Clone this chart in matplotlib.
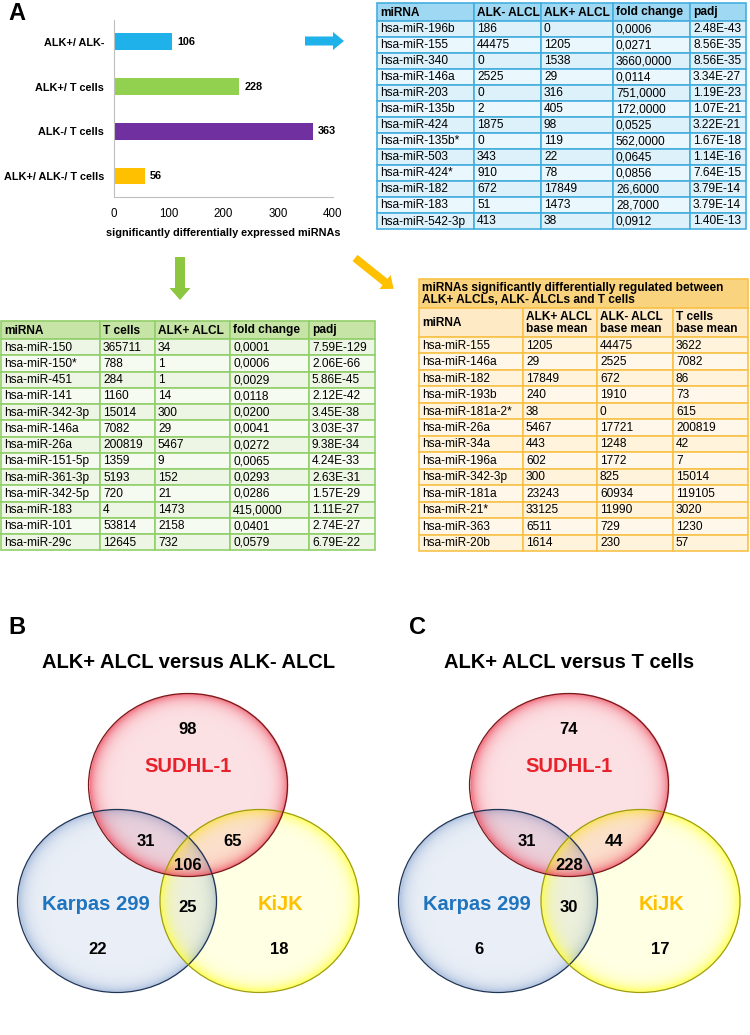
import numpy as np
import matplotlib
matplotlib.use('Agg')
import matplotlib.pyplot as plt
from matplotlib.patches import Rectangle, Ellipse, FancyArrow

plt.rcParams['font.family'] = ['Liberation Sans', 'DejaVu Sans']

# ---- data ----
bar_labels = ['ALK+/ ALK-', 'ALK+/ T cells', 'ALK-/ T cells', 'ALK+/ ALK-/ T cells']
bar_counts = [106, 228, 363, 56]

t1_head = ['miRNA', 'ALK- ALCL', 'ALK+ ALCL', 'fold change', 'padj']
t1_mirna = ['hsa-miR-196b', 'hsa-miR-155', 'hsa-miR-340', 'hsa-miR-146a', 'hsa-miR-203',
            'hsa-miR-135b', 'hsa-miR-424', 'hsa-miR-135b*', 'hsa-miR-503', 'hsa-miR-424*',
            'hsa-miR-182', 'hsa-miR-183', 'hsa-miR-542-3p']
t1_alkneg = ['186', '44475', '0', '2525', '0', '2', '1875', '0', '343', '910', '672', '51', '413']
t1_alkpos = ['0', '1205', '1538', '29', '316', '405', '98', '119', '22', '78', '17849', '1473', '38']
t1_fc = ['0,0006', '0,0271', '3660,0000', '0,0114', '751,0000', '172,0000', '0,0525',
         '562,0000', '0,0645', '0,0856', '26,6000', '28,7000', '0,0912']
t1_padj = ['2.48E-43', '8.56E-35', '8.56E-35', '3.34E-27', '1.19E-23', '1.07E-21', '3.22E-21',
           '1.67E-18', '1.14E-16', '7.64E-15', '3.79E-14', '3.79E-14', '1.40E-13']

t2_head = ['miRNA', 'T cells', 'ALK+ ALCL', 'fold change', 'padj']
t2_mirna = ['hsa-miR-150', 'hsa-miR-150*', 'hsa-miR-451', 'hsa-miR-141', 'hsa-miR-342-3p',
            'hsa-miR-146a', 'hsa-miR-26a', 'hsa-miR-151-5p', 'hsa-miR-361-3p', 'hsa-miR-342-5p',
            'hsa-miR-183', 'hsa-miR-101', 'hsa-miR-29c']
t2_tcells = ['365711', '788', '284', '1160', '15014', '7082', '200819', '1359', '5193', '720',
             '4', '53814', '12645']
t2_alkpos = ['34', '1', '1', '14', '300', '29', '5467', '9', '152', '21', '1473', '2158', '732']
t2_fc = ['0,0001', '0,0006', '0,0029', '0,0118', '0,0200', '0,0041', '0,0272', '0,0065',
         '0,0293', '0,0286', '415,0000', '0,0401', '0,0579']
t2_padj = ['7.59E-129', '2.06E-66', '5.86E-45', '2.12E-42', '3.45E-38', '3.03E-37', '9.38E-34',
           '4.24E-33', '2.63E-31', '1.57E-29', '1.11E-27', '2.74E-27', '6.79E-22']

t3_title = 'miRNAs significantly differentially regulated between\nALK+ ALCLs, ALK- ALCLs and T cells'
t3_head = ['miRNA', 'ALK+ ALCL\nbase mean', 'ALK- ALCL\nbase mean', 'T cells\nbase mean']
t3_mirna = ['hsa-miR-155', 'hsa-miR-146a', 'hsa-miR-182', 'hsa-miR-193b', 'hsa-miR-181a-2*',
            'hsa-miR-26a', 'hsa-miR-34a', 'hsa-miR-196a', 'hsa-miR-342-3p', 'hsa-miR-181a',
            'hsa-miR-21*', 'hsa-miR-363', 'hsa-miR-20b']
t3_alkpos = ['1205', '29', '17849', '240', '38', '5467', '443', '602', '300', '23243', '33125',
             '6511', '1614']
t3_alkneg = ['44475', '2525', '672', '1910', '0', '17721', '1248', '1772', '825', '60934',
             '11990', '729', '230']
t3_tcells = ['3622', '7082', '86', '73', '615', '200819', '42', '7', '15014', '119105', '3020',
             '1230', '57']

venn_sets = ['SUDHL-1', 'Karpas 299', 'KiJK']
# regions: S only, S&K, S&J, all, K&J, K only, J only
venn_b = [98, 31, 65, 106, 25, 22, 18]
venn_c = [74, 31, 44, 228, 30, 6, 17]

# ---- figure ----
fig = plt.figure(figsize=(7.5, 10.35), dpi=100)
ax = fig.add_axes([0, 0, 1, 1])
ax.axis('off')


def draw_table(x_edges, y_top, heights, rows, fills, edge, bold_rows):
    y = y_top
    for i, row in enumerate(rows):
        h = heights[i]
        for j, txt in enumerate(row):
            ax.add_patch(Rectangle((x_edges[j], y), x_edges[j + 1] - x_edges[j], h,
                                   facecolor=fills[i], edgecolor=edge, lw=1.2))
            ax.text(x_edges[j] + 3, y + h / 2 + 0.5, txt, fontsize=8.6, va='center', ha='left',
                    fontweight='bold' if i in bold_rows else 'normal', linespacing=1.05)
        y += h


# table 1 (blue)
rows1 = [t1_head] + [list(r) for r in zip(t1_mirna, t1_alkneg, t1_alkpos, t1_fc, t1_padj)]
fills1 = ['#9ED8F2'] + ['#DDF1FB' if i % 2 == 0 else '#EAF7FD' for i in range(len(t1_mirna))]
draw_table([377, 474, 541, 613, 690, 746], 3, [18] + [16] * len(t1_mirna), rows1, fills1,
           '#45AEDF', [0])

# table 2 (green)
rows2 = [t2_head] + [list(r) for r in zip(t2_mirna, t2_tcells, t2_alkpos, t2_fc, t2_padj)]
fills2 = ['#C6E4A6'] + ['#EDF6E4' if i % 2 == 0 else '#F6FBF1' for i in range(len(t2_mirna))]
draw_table([1, 100, 155, 230, 309, 375], 321, [18] + [16.25] * len(t2_mirna), rows2, fills2,
           '#93CF6B', [0])

# table 3 (yellow)
ax.add_patch(Rectangle((419, 279), 329, 29, facecolor='#FAD37E', edgecolor='#F8C24A', lw=1.2))
ax.text(422, 294, t3_title, fontsize=8.6, fontweight='bold', va='center', ha='left',
        linespacing=1.05)
rows3 = [t3_head] + [list(r) for r in zip(t3_mirna, t3_alkpos, t3_alkneg, t3_tcells)]
fills3 = ['#FEEBC6'] + ['#FFF3DC' if i % 2 == 0 else '#FFF8EA' for i in range(len(t3_mirna))]
draw_table([419, 523, 597, 673, 748], 308, [29] + [16.46] * len(t3_mirna), rows3, fills3,
           '#F8C24A', [0])

# arrows
ax.add_patch(FancyArrow(305, 41, 28, 0, width=9, head_width=18, head_length=11,
                        length_includes_head=False, color='#1EB1EA', lw=0))
ax.add_patch(FancyArrow(180, 257, 0, 31, width=10, head_width=21, head_length=12,
                        color='#8DC63F', lw=0))
ax.add_patch(FancyArrow(355, 258, 30, 24, width=8, head_width=18, head_length=11,
                        color='#FFC000', lw=0))

# panel letters
ax.text(8, 14, 'A', fontsize=17, fontweight='bold', va='center')
ax.text(8, 627, 'B', fontsize=17, fontweight='bold', va='center')
ax.text(409, 628, 'C', fontsize=17, fontweight='bold', va='center')


# ---- venn diagrams ----
def glossy(cx, cy, rx, ry, rgb, a_in, a_out):
    xs = np.arange(cx - rx, cx + rx + 1, 0.5)
    ys = np.arange(cy - ry, cy + ry + 1, 0.5)
    X, Y = np.meshgrid(xs, ys)
    r = np.sqrt(((X - cx) / rx) ** 2 + ((Y - cy) / ry) ** 2)
    img = np.zeros(X.shape + (4,))
    img[..., :3] = rgb
    a = a_in + (a_out - a_in) * np.clip(r, 0, 1) ** 14
    a[r > 1] = 0
    img[..., 3] = a
    ax.imshow(img, extent=(xs[0], xs[-1], ys[-1], ys[0]), origin='upper',
              interpolation='bilinear', zorder=2)


def venn(x0, title, counts):
    rx, ry = 99.5, 91.5
    cs = (x0, 785)
    ck = (x0 - 71, 901)
    cj = (x0 + 71.5, 901)
    glossy(ck[0], ck[1], rx, ry, (0.45, 0.58, 0.78), 0.15, 0.6)
    glossy(cj[0], cj[1], rx, ry, (1.0, 1.0, 0.2), 0.13, 0.85)
    glossy(cs[0], cs[1], rx, ry, (0.93, 0.30, 0.38), 0.17, 0.85)
    for c, ec in [(ck, '#1F3354'), (cj, '#9E9E10'), (cs, '#7A1818')]:
        ax.add_patch(Ellipse(c, 2 * rx, 2 * ry, fill=False, edgecolor=ec, lw=0.9, zorder=3))
    ax.text(x0, 663, title, fontsize=14.5, fontweight='bold', ha='center', va='center')
    ax.text(x0, 767, venn_sets[0], color='#E8212B', fontsize=14.5, fontweight='bold',
            ha='center', va='center', zorder=4)
    ax.text(x0 - 92, 905, venn_sets[1], color='#1E74BF', fontsize=14.5, fontweight='bold',
            ha='center', va='center', zorder=4)
    ax.text(x0 + 92, 905, venn_sets[2], color='#FFC000', fontsize=14.5, fontweight='bold',
            ha='center', va='center', zorder=4)
    pos = [(x0, 729), (x0 - 42, 841), (x0 + 45, 841), (x0, 865), (x0, 908),
           (x0 - 90, 949), (x0 + 91, 949)]
    for (px, py), n in zip(pos, counts):
        ax.text(px, py, str(n), fontsize=12, fontweight='bold', ha='center', va='center',
                zorder=4)


venn(188, 'ALK+ ALCL versus ALK- ALCL', venn_b)
venn(569, 'ALK+ ALCL versus T cells', venn_c)

ax.set_xlim(0, 750)
ax.set_ylim(1035, 0)

# ---- bar chart ----
bx = fig.add_axes([114 / 750, 1 - 197 / 1035, 219 / 750, 177 / 1035])
bx.set_facecolor('none')
ypos = np.arange(len(bar_counts))
bx.barh(ypos, bar_counts, height=0.38, color=['#1EB1EA', '#92D050', '#7030A0', '#FFC000'])
for y, v in zip(ypos, bar_counts):
    bx.text(v + 10, y, str(v), fontsize=7.8, fontweight='bold', va='center', ha='left')
bx.set_xlim(0, 400)
bx.set_ylim(3.47, -0.49)
bx.set_xticks([0, 100, 200, 300, 400])
bx.set_yticks(ypos)
bx.set_yticklabels(bar_labels, fontweight='bold', fontsize=7.8)
bx.tick_params(axis='both', length=0)
bx.tick_params(axis='y', pad=7)
bx.tick_params(axis='x', labelsize=8.3, pad=8)
for s in ['top', 'right']:
    bx.spines[s].set_visible(False)
for s in ['left', 'bottom']:
    bx.spines[s].set_color('#BFBFBF')
bx.set_xlabel('significantly differentially expressed miRNAs', fontsize=7.8,
              fontweight='bold', labelpad=6)

fig.savefig('out.png', dpi=100)
